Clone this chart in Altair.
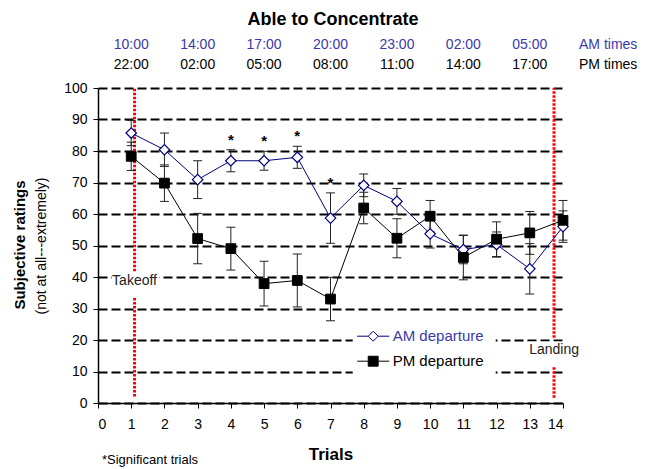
import altair as alt
import pandas as pd

FONT = "Liberation Sans"
AM_BLUE = "#3a3aaa"

# ---- data ----
trials = list(range(1, 15))
am_mean = [85.7, 80.4, 70.9, 76.9, 76.9, 78.0, 58.7, 69.1, 64.0, 53.7, 48.7, 50.3, 42.6, 56.0]
am_err = [4.0, 5.3, 6.0, 3.5, 3.0, 3.5, 8.0, 3.6, 4.1, 4.5, 4.5, 4.0, 8.0, 5.0]
pm_mean = [78.3, 69.8, 52.2, 49.0, 37.9, 38.9, 33.0, 61.9, 52.3, 59.3, 46.2, 52.0, 54.0, 58.0]
pm_err = [4.5, 5.8, 8.0, 6.8, 7.1, 8.4, 6.9, 5.0, 6.2, 5.0, 7.1, 5.5, 6.8, 6.3]
sig_trials = [4, 5, 6, 7]

series_names = ["AM departure", "PM departure"]
time_trials = [1, 3, 5, 7, 9, 11, 13]
am_times = ["10:00", "14:00", "17:00", "20:00", "23:00", "02:00", "05:00"]
pm_times = ["22:00", "02:00", "05:00", "08:00", "11:00", "14:00", "17:00"]

x_ticks = list(range(0, 15))
y_ticks = list(range(0, 101, 10))

event_names = ["Takeoff", "Landing"]
event_x = [1.10, 13.73]
event_label_y = [38.6, 16.9]
seg_x = [1.10, 1.10, 13.73, 13.73]
seg_lo = [41.8, 2.1, 20.7, 1.7]
seg_hi = [100.0, 33.8, 100.0, 11.6]
box_x1 = [0.42, 12.95]
box_x2 = [1.85, 14.45]
box_y1 = [34.2, 12.0]
box_y2 = [41.6, 19.5]

# ---- tables ----
df = pd.DataFrame({
    "trial": trials * 2,
    "series": [series_names[0]] * 14 + [series_names[1]] * 14,
    "mean": am_mean + pm_mean,
    "lo": [m - e for m, e in zip(am_mean, am_err)] + [m - e for m, e in zip(pm_mean, pm_err)],
    "hi": [m + e for m, e in zip(am_mean, am_err)] + [m + e for m, e in zip(pm_mean, pm_err)],
})
am_df = df[df.series == series_names[0]]
pm_df = df[df.series == series_names[1]]
sig_df = am_df[am_df.trial.isin(sig_trials)].assign(star="*")

times_df = pd.DataFrame({"trial": time_trials, "am": am_times, "pm": pm_times})
seg_df = pd.DataFrame({"x": seg_x, "lo": seg_lo, "hi": seg_hi})
box_df = pd.DataFrame({"x1": box_x1, "x2": box_x2, "y1": box_y1, "y2": box_y2})
ev_df = pd.DataFrame({"name": event_names, "x": event_x, "y": event_label_y})

xs = alt.Scale(domain=[0, 14], nice=False, zero=False)
ys = alt.Scale(domain=[0, 100], nice=False)
x_axis = alt.Axis(values=x_ticks, title=None, grid=False, tickSize=5, labelPadding=9, format="d",
                  labelOverlap=False)
y_axis = alt.Axis(values=y_ticks, title=None, grid=True, tickSize=5, labelPadding=6,
                  gridDash=[9, 4], gridColor="black", gridWidth=2, gridOpacity=1, labelOverlap=False)


def XQ(field):
    return alt.X(field, type="quantitative", scale=xs, axis=x_axis)


def YQ(field):
    return alt.Y(field, type="quantitative", scale=ys, axis=y_axis)


base = alt.Chart(df)

# white boxes behind event labels
boxes = alt.Chart(box_df).mark_rect(color="white").encode(
    x=XQ("x1"), x2="x2:Q", y=YQ("y1"), y2="y2:Q")

red = alt.Chart(seg_df).mark_rule(color="#ff0000", strokeWidth=3, strokeDash=[2.5, 1.5]).encode(
    x=XQ("x"), y=YQ("lo"), y2="hi:Q")

ev_text = alt.Chart(ev_df).mark_text(font=FONT, fontSize=14, color="#222222").encode(
    x=XQ("x"), y=YQ("y"), text="name:N")

am_line = alt.Chart(am_df).mark_line(color="#000080", strokeWidth=1).encode(x=XQ("trial"), y=YQ("mean"))
pm_line = alt.Chart(pm_df).mark_line(color="black", strokeWidth=1).encode(x=XQ("trial"), y=YQ("mean"))

err_v = base.mark_rule(color="#222222", strokeWidth=1).encode(x=XQ("trial"), y=YQ("lo"), y2="hi:Q")
cap_hi = base.mark_rule(color="#222222", strokeWidth=1, xOffset=-4.5, x2Offset=4.5).encode(
    x=XQ("trial"), x2="trial:Q", y=YQ("hi"))
cap_lo = base.mark_rule(color="#222222", strokeWidth=1, xOffset=-4.5, x2Offset=4.5).encode(
    x=XQ("trial"), x2="trial:Q", y=YQ("lo"))

am_pts = alt.Chart(am_df).mark_point(shape="diamond", filled=True, fill="white", stroke="#000080",
                                      strokeWidth=1.2, size=110, opacity=1).encode(x=XQ("trial"), y=YQ("mean"))
pm_pts = alt.Chart(pm_df).mark_point(shape="square", filled=True, fill="black", stroke="black",
                                      strokeWidth=1, size=95, opacity=1).encode(x=XQ("trial"), y=YQ("mean"))

stars = alt.Chart(sig_df).mark_text(font=FONT, fontSize=15, fontWeight="bold", baseline="alphabetic",
                                    dy=-5, color="black").encode(x=XQ("trial"), y=YQ("hi"), text="star:N")

# legend-only layer (points are clipped away outside the x domain)
AM_PATH = "M-2,0L-0.62,0M0.62,0L2,0M0,-0.62L0.62,0L0,0.62L-0.62,0Z"
PM_PATH = "M-2,0L-0.62,0M0.62,0L2,0M-0.62,-0.62L0.62,-0.62L0.62,0.62L-0.62,0.62Z"
leg = alt.Legend(title=None, orient="none", legendX=254.7, legendY=227.7, fillColor="white",
                 padding=12, symbolSize=256, symbolStrokeWidth=1, labelFont=FONT, labelFontSize=15,
                 labelOffset=11, rowPadding=8, labelLimit=300,
                 labelColor={"expr": "datum.label === 'AM departure' ? '%s' : 'black'" % AM_BLUE})
leg_df = pd.DataFrame({"series": series_names, "trial": [-5, -5], "mean": [50, 50]})
legend_layer = alt.Chart(leg_df).mark_point(clip=True, filled=True, size=256, opacity=1).encode(
    x=XQ("trial"), y=YQ("mean"),
    shape=alt.Shape("series:N", scale=alt.Scale(domain=series_names, range=[AM_PATH, PM_PATH]), legend=leg),
    fill=alt.Fill("series:N", scale=alt.Scale(domain=series_names, range=["white", "black"]), legend=leg),
    stroke=alt.Stroke("series:N", scale=alt.Scale(domain=series_names, range=["#000080", "black"]), legend=leg),
)

# header texts
title = alt.Chart(pd.DataFrame({"t": ["Able to Concentrate"]})).mark_text(
    font=FONT, fontSize=18, fontWeight="bold", align="center", baseline="middle", color="black").encode(
    text="t:N", x=alt.value(235), y=alt.value(-68))
am_row = alt.Chart(times_df).mark_text(font=FONT, fontSize=14, color=AM_BLUE, baseline="middle").encode(
    x=XQ("trial"), y=alt.value(-43), text="am:N")
pm_row = alt.Chart(times_df).mark_text(font=FONT, fontSize=14, color="black", baseline="middle").encode(
    x=XQ("trial"), y=alt.value(-23), text="pm:N")
am_lab = alt.Chart(pd.DataFrame({"t": ["AM times"]})).mark_text(
    font=FONT, fontSize=14, color=AM_BLUE, align="left", baseline="middle").encode(
    text="t:N", x=alt.value(481), y=alt.value(-43))
pm_lab = alt.Chart(pd.DataFrame({"t": ["PM times"]})).mark_text(
    font=FONT, fontSize=14, color="black", align="left", baseline="middle").encode(
    text="t:N", x=alt.value(481), y=alt.value(-23))

# axis titles and footnote
y_t1 = alt.Chart(pd.DataFrame({"t": ["Subjective ratings"]})).mark_text(
    font=FONT, fontSize=15, fontWeight="bold", angle=270, align="center", baseline="middle", color="black").encode(
    text="t:N", x=alt.value(-78), y=alt.value(157))
y_t2 = alt.Chart(pd.DataFrame({"t": ["(not at all---extremely)"]})).mark_text(
    font=FONT, fontSize=14, angle=270, align="center", baseline="middle", color="black").encode(
    text="t:N", x=alt.value(-56), y=alt.value(158))
x_t = alt.Chart(pd.DataFrame({"t": ["Trials"]})).mark_text(
    font=FONT, fontSize=17, fontWeight="bold", align="center", baseline="middle", color="black").encode(
    text="t:N", x=alt.value(233), y=alt.value(367))
foot = alt.Chart(pd.DataFrame({"t": ["*Significant trials"]})).mark_text(
    font=FONT, fontSize=13, align="left", baseline="middle", color="black").encode(
    text="t:N", x=alt.value(4), y=alt.value(372))

chart = alt.layer(
    boxes, red, ev_text, am_line, pm_line, err_v, cap_hi, cap_lo, am_pts, pm_pts, stars,
    legend_layer, title, am_row, pm_row, am_lab, pm_lab, y_t1, y_t2, x_t, foot,
).properties(
    width=465, height=315,
    padding={"left": 90, "top": 80, "right": 84, "bottom": 66},
    autosize=alt.AutoSizeParams(type="none"),
).configure_view(stroke=None).configure_axis(
    labelFont=FONT, labelFontSize=14, labelColor="black", domainColor="black", domainWidth=1.5,
    tickColor="black", tickWidth=1
)

chart.save("out.html", embed_options={"renderer": "svg", "actions": False})
